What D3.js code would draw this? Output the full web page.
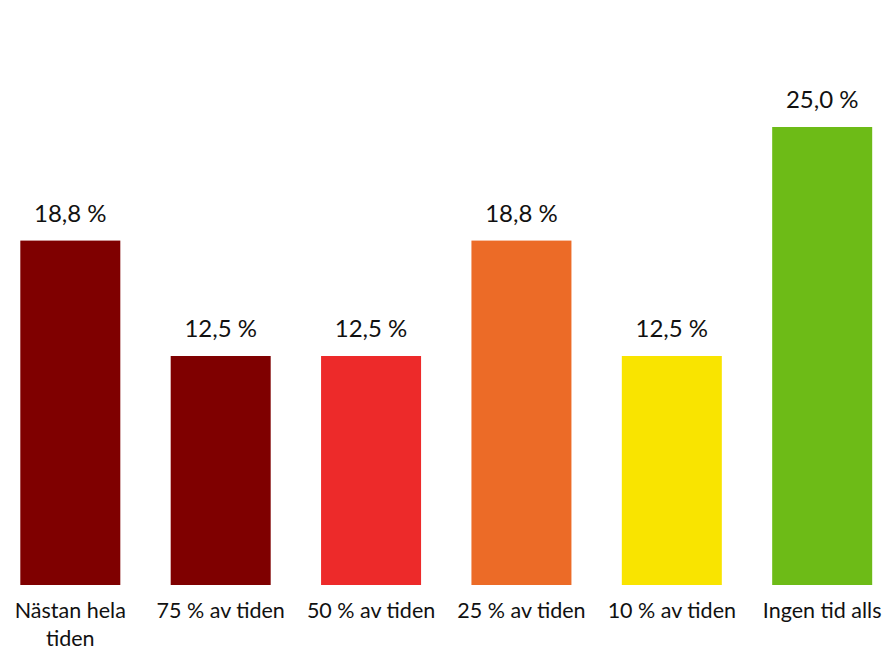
<!DOCTYPE html>
<html lang="sv">
<head>
  <meta charset="UTF-8">
  <title>Andel av tiden</title>
  <script src="https://d3js.org/d3.v7.min.js"></script>
  <style>
    body { margin: 0; background: #fff; }
    text { font-family: Lato, "Open Sans", sans-serif; fill: #111; }
  </style>
</head>
<body>
  <script>
    const categories = ["Nästan hela tiden", "75 % av tiden", "50 % av tiden", "25 % av tiden", "10 % av tiden", "Ingen tid alls"];
    const values = [18.8, 12.5, 12.5, 18.8, 12.5, 25.0];
    const valueLabels = ["18,8 %", "12,5 %", "12,5 %", "18,8 %", "12,5 %", "25,0 %"];
    const barColors = ["#7f0000", "#7f0000", "#ed2a2a", "#ec6b27", "#f9e400", "#6dbb17"];
    // label lines (wrapped like the original)
    const labelLines = [["Nästan hela", "tiden"], ["75 % av tiden"], ["50 % av tiden"], ["25 % av tiden"], ["10 % av tiden"], ["Ingen tid alls"]];

    const width = 886, height = 650;
    const baseY = 585;

    const svg = d3.select("body").append("svg")
      .attr("width", width)
      .attr("height", height);

    const x = d3.scaleBand()
      .domain(categories)
      .range([-4.5, 897])
      .paddingInner(0.335)
      .paddingOuter(0.165);

    const y = d3.scaleLinear()
      .domain([0, 25])
      .range([baseY, 127]);

    svg.selectAll("rect.bar")
      .data(values)
      .enter().append("rect")
      .attr("class", "bar")
      .attr("x", (d, i) => x(categories[i]))
      .attr("y", d => y(d))
      .attr("width", x.bandwidth())
      .attr("height", d => baseY - y(d))
      .attr("fill", (d, i) => barColors[i]);

    // value labels
    svg.selectAll("text.val")
      .data(values)
      .enter().append("text")
      .attr("class", "val")
      .attr("x", (d, i) => x(categories[i]) + x.bandwidth() / 2)
      .attr("y", d => y(d) - 19)
      .attr("text-anchor", "middle")
      .style("font-size", "24px")
      .text((d, i) => valueLabels[i]);

    // category labels
    const cat = svg.selectAll("text.cat")
      .data(categories)
      .enter().append("text")
      .attr("class", "cat")
      .attr("text-anchor", "middle")
      .style("font-size", "21.5px");

    cat.selectAll("tspan")
      .data((d, i) => labelLines[i].map(l => ({ l, c: d })))
      .enter().append("tspan")
      .attr("x", d => x(d.c) + x.bandwidth() / 2)
      .attr("y", (d, j) => 618 + j * 28)
      .text(d => d.l);
  </script>
</body>
</html>
